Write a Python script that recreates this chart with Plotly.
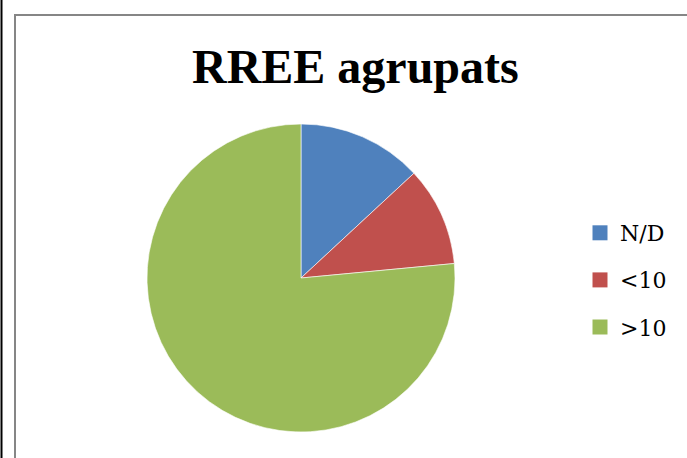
import plotly.graph_objects as go

labels = ["N/D", "<10", ">10"]
values = [13.1, 10.4, 76.5]
colors = ["#4F81BD", "#C0504D", "#9BBB59"]
title_text = "RREE agrupats"

W, H = 687, 458

fig = go.Figure()
fig.add_trace(go.Pie(
    labels=labels, values=values, sort=False, direction="clockwise", rotation=0,
    marker=dict(colors=colors, line=dict(color="white", width=0.6)),
    textinfo="none", hoverinfo="label+percent", showlegend=False,
    domain=dict(x=[147 / W, 455 / W], y=[(H - 432) / H, (H - 124) / H]),
))
# legend entries (one group each so spacing can be set)
for i, (lab, col) in enumerate(zip(labels, colors)):
    fig.add_trace(go.Scatter(
        x=[None], y=[None], mode="markers", name=lab, legendgroup=f"g{i}",
        marker=dict(symbol="square", size=15, color=col),
        showlegend=True, hoverinfo="skip",
    ))

fig.update_layout(
    width=W, height=H, autosize=False,
    margin=dict(l=0, r=0, t=0, b=0),
    paper_bgcolor="white", plot_bgcolor="white",
    xaxis=dict(visible=False), yaxis=dict(visible=False),
    showlegend=True,
    legend=dict(
        x=580 / W, xanchor="left", y=1 - 212 / H, yanchor="top",
        font=dict(family="DejaVu Serif, serif", size=22, color="black"),
        tracegroupgap=15.5, bgcolor="rgba(0,0,0,0)", itemsizing="trace",
    ),
    annotations=[dict(
        text=f"<b>{title_text}</b>", x=355 / W, xref="paper", xanchor="center",
        y=1 - 66 / H, yref="paper", yanchor="middle", showarrow=False,
        font=dict(family="Liberation Serif, DejaVu Serif, serif", size=48, color="black"),
    )],
    shapes=[
        dict(type="rect", xref="paper", yref="paper",
             x0=15 / W, y0=-0.05, x1=1.05, y1=1 - 15 / H,
             line=dict(color="#868686", width=2), fillcolor="rgba(0,0,0,0)"),
        dict(type="line", xref="paper", yref="paper",
             x0=1.5 / W, y0=0, x1=1.5 / W, y1=1,
             line=dict(color="black", width=2)),
    ],
)

fig.write_html(
    "out.html",
    config={"displayModeBar": False},
    post_script="document.body.style.margin='0';document.body.style.overflow='hidden';",
)
